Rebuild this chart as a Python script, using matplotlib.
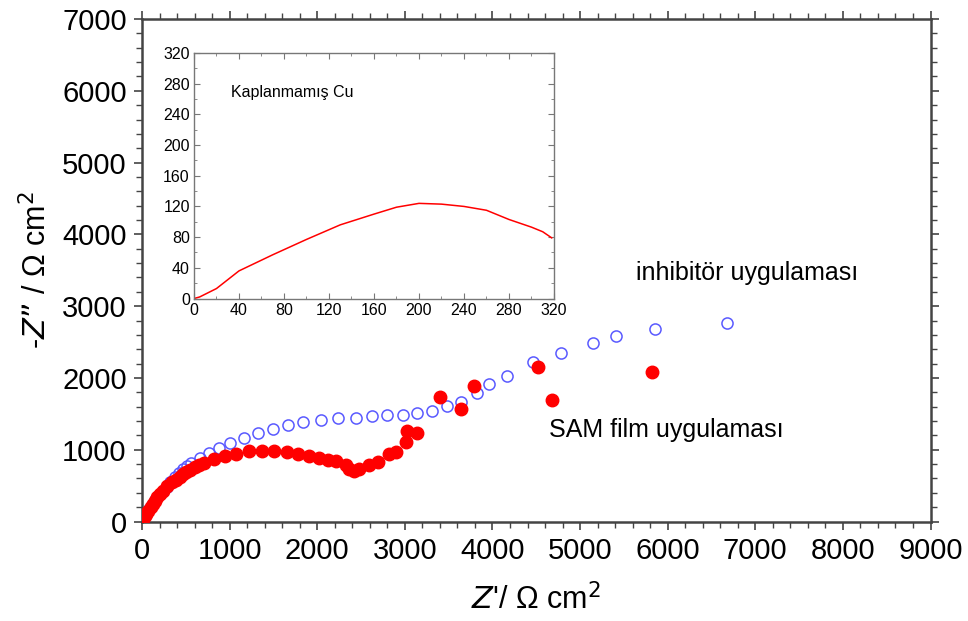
import matplotlib.pyplot as plt
from matplotlib.ticker import MultipleLocator

plt.rcParams['font.family'] = ['Liberation Sans', 'DejaVu Sans']

# inhibitor uygulamasi (blue open circles)
inh_x = [0, 20, 45, 75, 110, 150, 190, 235, 280, 325, 375, 420, 469, 515, 564,
         658, 761, 878, 1010, 1169, 1320, 1490, 1669, 1843, 2047, 2240, 2437,
         2626, 2796, 2974, 3144, 3314, 3485, 3636, 3825, 3961, 4166, 4468,
         4782, 5142, 5407, 5860, 6674]
inh_y = [0, 55, 110, 170, 235, 305, 370, 430, 487, 545, 616, 675, 733, 775, 811,
         890, 960, 1020, 1094, 1164, 1233, 1284, 1345, 1381, 1414, 1437, 1442,
         1474, 1484, 1488, 1512, 1540, 1604, 1660, 1790, 1915, 2026, 2216,
         2346, 2480, 2587, 2675, 2764]

# SAM film uygulamasi (red filled circles)
sam_x = [0, 15, 30, 50, 72, 100, 125, 148, 175, 205, 242, 285, 337, 385, 431,
         470, 507, 550, 602, 650, 704, 821, 946, 1075, 1226, 1366, 1502, 1653,
         1782, 1907, 2021, 2123, 2217, 2324, 2361, 2418, 2474, 2596, 2694,
         2815, 2902, 3010, 3020, 3136, 3402, 3640, 3791, 4525, 4680, 5823]
sam_y = [0, 40, 75, 110, 153, 200, 250, 292, 335, 380, 431, 490, 547, 585, 616,
         655, 686, 718, 755, 790, 816, 867, 908, 941, 978, 987, 987, 973,
         941, 908, 880, 862, 839, 793, 733, 709, 733, 789, 834,
         941, 973, 1110, 1265, 1235, 1739, 1567, 1882, 2156, 1687, 2077]

# Kaplanmamis Cu (inset line)
cu_x = [0, 5, 20, 40, 60, 70, 100, 130, 160, 180, 200, 220, 240, 260, 280, 300, 310, 318]
cu_y = [0, 2, 13, 36, 50, 57, 77, 96, 110, 119, 124, 123, 120, 115, 103, 93, 87, 79]

fig = plt.figure(figsize=(9.68, 6.21), dpi=100)
ax = fig.add_axes([0.1467, 0.1602, 0.8146, 0.8092])

ax.plot(inh_x, inh_y, 'o', mfc='none', mec='#5a5aff', mew=1.1, ms=8, zorder=2)
ax.plot(sam_x, sam_y, 'o', color='#ff0000', ms=9, zorder=3)

ax.set_xlim(0, 9000)
ax.set_ylim(0, 7000)
ax.xaxis.set_major_locator(MultipleLocator(1000))
ax.xaxis.set_minor_locator(MultipleLocator(200))
ax.yaxis.set_major_locator(MultipleLocator(1000))
ax.yaxis.set_minor_locator(MultipleLocator(200))
ax.tick_params(which='both', direction='out', top=True, right=True,
               labeltop=False, labelright=False, color='#444444')
ax.tick_params(which='major', length=6, width=1.2, labelsize=21, pad=5)
ax.tick_params(which='minor', length=4, width=1)
for s in ax.spines.values():
    s.set_color('#444444')
    s.set_linewidth(1.8)

ax.set_xlabel("$Z$'/ Ω cm$^2$", fontsize=22, labelpad=14)
ax.set_ylabel("-$Z$” / Ω cm$^2$", fontsize=22, labelpad=6)

ax.text(5640, 3460, 'inhibitör uygulaması', fontsize=18, va='center')
ax.text(4650, 1270, 'SAM film uygulaması', fontsize=18, va='center')

# inset
ins = fig.add_axes([0.2004, 0.5193, 0.3719, 0.3954])
ins.plot(cu_x, cu_y, color='#ff0000', lw=1.1)
ins.set_xlim(0, 320)
ins.set_ylim(0, 320)
ins.xaxis.set_major_locator(MultipleLocator(40))
ins.xaxis.set_minor_locator(MultipleLocator(20))
ins.yaxis.set_major_locator(MultipleLocator(40))
ins.yaxis.set_minor_locator(MultipleLocator(20))
ins.tick_params(which='both', direction='in', top=True, right=True,
                color='#777777', labelsize=11.5, pad=3)
ins.tick_params(which='major', length=4)
ins.tick_params(which='minor', length=2.5)
for s in ins.spines.values():
    s.set_color('#777777')
    s.set_linewidth(1)
ins.text(33, 269, 'Kaplanmamış Cu', fontsize=11.5, va='center')

fig.savefig('out.png', dpi=100)
